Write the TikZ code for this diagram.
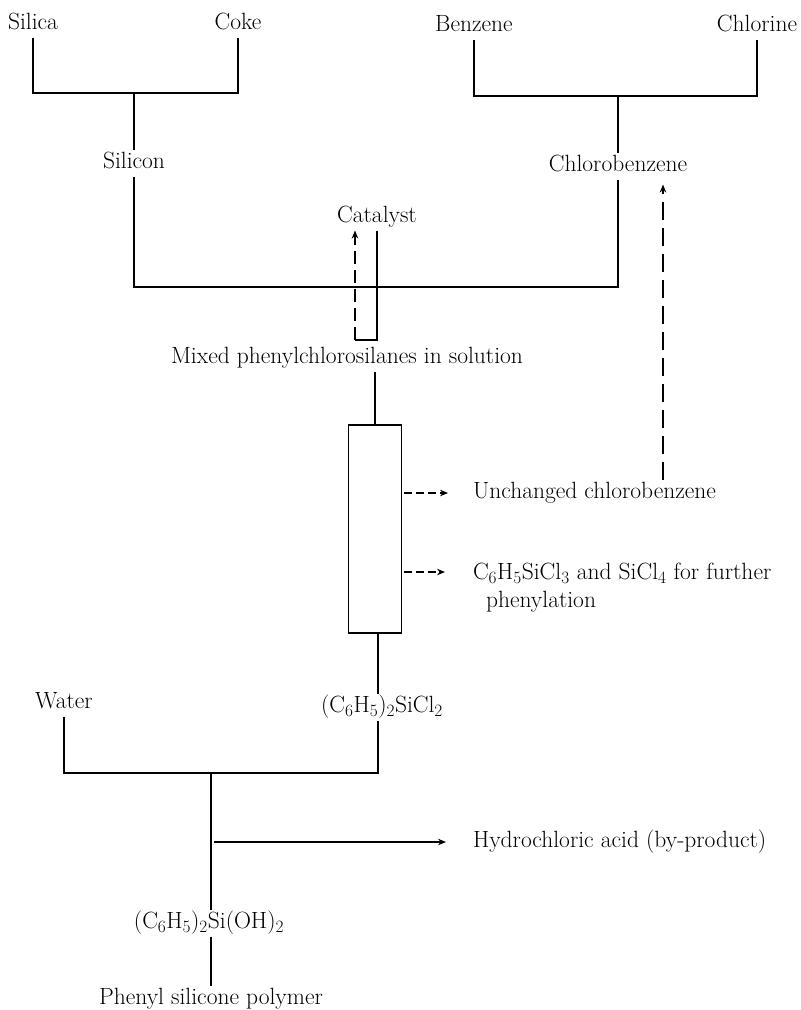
\documentclass[tikz,border=0pt]{standalone}
\usetikzlibrary{arrows.meta}
\begin{document}
\begin{tikzpicture}[x=1pt,y=-1pt,
  lbl/.style={inner sep=0pt, outer sep=3pt, text height=16pt, text depth=5pt, font=\fontsize{23.5}{28}\selectfont},
  ln/.style={line width=1.5pt},
  tip/.style={-{Stealth[length=8pt,width=6.5pt]}},
  arr/.style={ln, tip},
  bigdash/.style={line width=2.6pt, dash pattern=on 18pt off 8pt, tip},
  catdash/.style={line width=1.5pt, dash pattern=on 13pt off 6pt, tip},
  smalldash/.style={line width=1.3pt, dash pattern=on 8pt off 4pt, tip}]
\useasboundingbox (0,0) rectangle (801,1010);

% top reactants
\node[lbl] (silica) at (33,24) {Silica};
\node[lbl] (coke) at (238,24) {Coke};
\node[lbl] (silicon) at (134,163) {Silicon};
\node[lbl] (benzene) at (474,26) {Benzene};
\node[lbl] (chlorine) at (757,26) {Chlorine};
\node[lbl] (chlorobenzene) at (618,166) {Chlorobenzene};
\node[lbl] (catalyst) at (377,217) {Catalyst};
\node[lbl] (mixed) at (347,358) {Mixed phenylchlorosilanes in solution};

% fractionating column
\node[draw, ln, minimum width=53pt, minimum height=208pt, inner sep=0pt] (col) at (375,529) {};

\node[lbl, anchor=west] (unchanged) at (470,493) {Unchanged chlorobenzene};
\node[inner sep=0pt, outer sep=3pt, anchor=north west, align=left, font=\fontsize{23.5}{28}\selectfont] (c6) at (470,560)
  {C$_6$H$_5$SiCl$_3$ and SiCl$_4$ for further\\\hspace*{13pt}phenylation};

\node[lbl] (water) at (64,703) {Water};
\node[lbl] (sicl2) at (382,707) {(C$_6$H$_5$)$_2$SiCl$_2$};
\node[lbl, anchor=west] (hcl) at (470,842) {Hydrochloric acid (by-product)};
\node[lbl] (silanol) at (209,923) {(C$_6$H$_5$)$_2$Si(OH)$_2$};
\node[lbl] (phenyl) at (211,999) {Phenyl silicone polymer};

% helper coordinates
\coordinate (j1) at (134,93);
\coordinate (j2) at (618,96);
\coordinate (hy) at (0,287);
\coordinate (cl) at (355,340);
\coordinate (cr) at (377,340);
\coordinate (rx) at (663,0);
\coordinate (c6a) at (467,572);
\coordinate (j3) at (211,773);
\coordinate (sx) at (378,0);
\coordinate (h0) at (214,842);

% silica + coke -> silicon
\draw[ln] (silica.south) |- (j1) -| (coke.south);
\draw[ln] (j1) -- (silicon.north);
% benzene + chlorine -> chlorobenzene
\draw[ln] (benzene.south) |- (j2) -| (chlorine.south);
\draw[ln] (j2) -- (chlorobenzene.north);
% silicon + chlorobenzene -> reaction
\draw[ln] (silicon.south) -- (silicon.south |- hy) -- (chlorobenzene.south |- hy) -- (chlorobenzene.south);
% catalyst loop
\draw[ln] (catalyst.south) -- (cr) -- (cl);
\draw[catdash] (cl) -- (cl |- catalyst.south);
% mixed -> column
\draw[ln] (col.north |- mixed.south) -- (col.north);
% column side streams
\draw[smalldash, shorten <=2pt, shorten >=22pt] (col.east |- unchanged.west) -- (unchanged.west);
\draw[smalldash, shorten <=2pt, shorten >=22pt] (col.east |- c6a) -- (c6a);
% recycle of chlorobenzene
\draw[bigdash, shorten >=5pt] (unchanged.north -| rx) -- (chlorobenzene.south -| rx);
% column -> (C6H5)2SiCl2
\draw[ln] (col.south -| sx) -- (sicl2.north -| sx);
% water + (C6H5)2SiCl2
\draw[ln] (water.south) |- (j3) -| (sicl2.south -| sx);
\draw[ln] (j3) -- (silanol.north -| j3);
% HCl by-product
\draw[arr, shorten >=24pt] (h0) -- (hcl.west);
% silanol -> polymer
\draw[ln] (silanol.south -| j3) -- (phenyl.north -| j3);
\end{tikzpicture}
\end{document}
